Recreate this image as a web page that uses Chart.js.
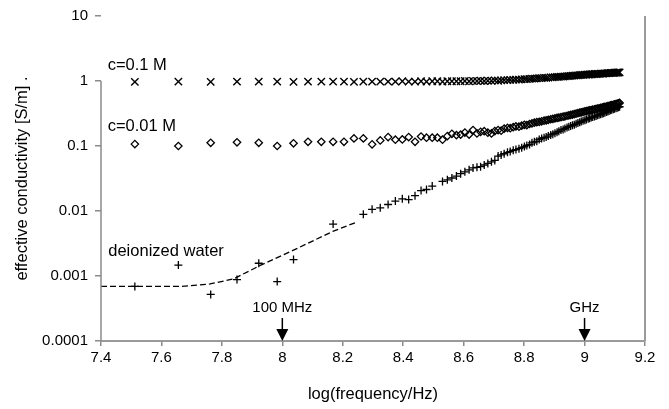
<!DOCTYPE html>
<html>
<head>
<meta charset="utf-8">
<script src="https://cdn.jsdelivr.net/npm/chart.js@4.4.0/dist/chart.umd.min.js"></script>
<style>
  html, body { margin: 0; padding: 0; background: #fff; }
  #wrap { width: 669px; height: 409px; position: relative; }
</style>
</head>
<body>
<div id="wrap"><canvas id="c" width="669" height="409"></canvas></div>
<script>
// log10(frequency / Hz) of every measurement point
const logFreq = [
  7.512, 7.656, 7.763, 7.850, 7.922, 7.983, 8.037, 8.085, 8.129, 8.168,
  8.204, 8.237, 8.268, 8.297, 8.324, 8.350, 8.374, 8.397, 8.418, 8.439,
  8.459, 8.477, 8.496, 8.513, 8.530, 8.546, 8.561, 8.576, 8.590, 8.604,
  8.618, 8.631, 8.644, 8.656, 8.668, 8.680, 8.692, 8.703, 8.714, 8.724,
  8.734, 8.745, 8.754, 8.764, 8.773, 8.783, 8.792, 8.801, 8.809, 8.818,
  8.826, 8.834, 8.842, 8.850, 8.858, 8.866, 8.873, 8.880, 8.888, 8.895,
  8.902, 8.909, 8.915, 8.922, 8.929, 8.935, 8.942, 8.948, 8.954, 8.960,
  8.966, 8.972, 8.978, 8.984, 8.989, 8.995, 9.001, 9.006, 9.012, 9.017,
  9.022, 9.027, 9.033, 9.038, 9.043, 9.048, 9.053, 9.058, 9.062, 9.067,
  9.072, 9.077, 9.081, 9.086, 9.090, 9.095, 9.099, 9.104, 9.108, 9.112,
  9.116
];

// c = 0.1 M  (x markers)
const cond01 = [
  0.97,0.98,0.97,0.98,0.98,0.98,0.97,0.98,0.98,0.98,
  0.98,0.97,0.98,0.98,0.98,0.98,0.98,0.99,0.98,0.98,
  0.99,0.98,0.99,0.99,0.98,0.99,0.99,0.99,0.99,1.00,
  0.99,1.00,1.00,1.01,1.00,1.01,1.01,1.02,1.01,1.02,
  1.03,1.03,1.04,1.04,1.05,1.05,1.06,1.07,1.07,1.08,
  1.09,1.09,1.10,1.11,1.11,1.12,1.12,1.13,1.14,1.14,
  1.15,1.16,1.16,1.17,1.17,1.18,1.19,1.19,1.20,1.21,
  1.21,1.22,1.22,1.23,1.24,1.24,1.25,1.25,1.26,1.26,
  1.27,1.27,1.28,1.28,1.29,1.29,1.30,1.30,1.30,1.31,
  1.31,1.32,1.32,1.33,1.33,1.33,1.34,1.34,1.35,1.35,
  1.36
];

// c = 0.01 M  (diamonds)
const cond001 = [
  0.107,0.100,0.112,0.114,0.112,0.100,0.110,0.116,0.116,0.116,
  0.116,0.131,0.131,0.106,0.122,0.137,0.125,0.126,0.137,0.116,
  0.140,0.134,0.134,0.134,0.125,0.142,0.154,0.147,0.150,0.161,
  0.150,0.176,0.156,0.165,0.169,0.160,0.156,0.170,0.176,0.172,
  0.185,0.190,0.188,0.195,0.200,0.198,0.205,0.212,0.210,0.218,
  0.222,0.228,0.232,0.236,0.240,0.245,0.248,0.253,0.258,0.262,
  0.266,0.270,0.274,0.278,0.282,0.286,0.292,0.296,0.300,0.305,
  0.310,0.315,0.320,0.325,0.330,0.335,0.340,0.344,0.349,0.353,
  0.358,0.362,0.367,0.372,0.376,0.380,0.385,0.390,0.395,0.400,
  0.405,0.410,0.415,0.420,0.425,0.430,0.436,0.442,0.448,0.454,
  0.460
];

// deionized water  (plus markers; null = no point shown)
const water = [
  0.00069,0.00147,0.00052,0.00088,0.00157,0.00082,0.00179,null,null,0.0063,
  null,null,0.0089,0.0106,0.0112,0.0126,0.0142,0.0154,0.0150,0.0172,
  0.0206,0.0214,0.0242,null,0.0285,0.0302,0.0322,0.0345,0.0375,0.0400,
  0.043,0.046,0.047,0.048,0.051,0.054,0.057,0.060,0.070,0.073,
  0.076,0.080,0.082,0.086,0.088,0.091,0.094,0.098,0.102,0.105,
  0.112,0.116,0.118,0.126,0.131,0.134,0.137,0.142,0.148,0.152,
  0.157,0.163,0.168,0.176,0.180,0.186,0.193,0.198,0.203,0.208,
  0.213,0.219,0.225,0.232,0.238,0.244,0.250,0.256,0.262,0.268,
  0.274,0.279,0.284,0.290,0.296,0.302,0.308,0.314,0.320,0.326,
  0.333,0.340,0.347,0.354,0.360,0.367,0.374,0.381,0.388,0.395,
  0.402
];

// dashed fit curve for deionized water
const fitX = [7.40, 7.662, 7.761, 7.838, 7.925, 8.037, 8.169, 8.241];
const fitY = [0.00069, 0.00069, 0.000755, 0.00090, 0.00144, 0.0025, 0.0049, 0.0066];

// axes
const xTickValues = [7.4, 7.6, 7.8, 8.0, 8.2, 8.4, 8.6, 8.8, 9.0, 9.2];
const xTickLabels = ["7.4", "7.6", "7.8", "8", "8.2", "8.4", "8.6", "8.8", "9", "9.2"];
const yTickValues = [0.0001, 0.001, 0.01, 0.1, 1, 10];
const yTickLabels = ["0.0001", "0.001", "0.01", "0.1", "1", "10"];

// text labels in the plot (anchored in data coordinates)
const labelTexts = ["c=0.1 M", "c=0.01 M", "deionized water"];
const labelX = [7.422, 7.422, 7.424];
const labelY = [1.71, 0.203, 0.00235];

// arrows at the bottom
const arrowX = [8, 9];
const arrowLabels = ["100 MHz", "GHz"];

const FONT = "'Liberation Sans', Arial, Helvetica, sans-serif";

function pts(ys) {
  const out = [];
  for (let i = 0; i < logFreq.length; i++) {
    if (ys[i] !== null && ys[i] !== undefined) out.push({ x: logFreq[i], y: ys[i] });
  }
  return out;
}

const overlay = {
  id: 'overlay',
  afterDraw(chart) {
    const ctx = chart.ctx;
    const xs = chart.scales.x, ys = chart.scales.y;
    const ca = chart.chartArea;
    ctx.save();
    // left axis line (only from 1 downwards, as in the reference)
    ctx.strokeStyle = '#8a8a8a';
    ctx.lineWidth = 1.5;
    ctx.beginPath();
    ctx.moveTo(ca.left, ys.getPixelForValue(1));
    ctx.lineTo(ca.left, ca.bottom);
    ctx.stroke();
    // right frame line
    ctx.strokeStyle = '#9a9a9a';
    ctx.lineWidth = 2;
    ctx.beginPath();
    ctx.moveTo(ca.right, ca.top);
    ctx.lineTo(ca.right, ca.bottom);
    ctx.stroke();

    // labels
    ctx.fillStyle = '#000';
    ctx.font = '16.5px ' + FONT;
    ctx.textAlign = 'left';
    ctx.textBaseline = 'middle';
    for (let i = 0; i < labelTexts.length; i++) {
      ctx.fillText(labelTexts[i], xs.getPixelForValue(labelX[i]), ys.getPixelForValue(labelY[i]));
    }

    // arrows
    for (let i = 0; i < arrowX.length; i++) {
      const px = xs.getPixelForValue(arrowX[i]);
      const b = ca.bottom;
      ctx.strokeStyle = '#000';
      ctx.lineWidth = 1.5;
      ctx.beginPath();
      ctx.moveTo(px, b - 23);
      ctx.lineTo(px, b - 10);
      ctx.stroke();
      ctx.fillStyle = '#000';
      ctx.beginPath();
      ctx.moveTo(px - 6, b - 12);
      ctx.lineTo(px + 6, b - 12);
      ctx.lineTo(px, b);
      ctx.closePath();
      ctx.fill();
      ctx.font = '15px ' + FONT;
      ctx.textAlign = 'center';
      ctx.textBaseline = 'middle';
      ctx.fillText(arrowLabels[i], px, b - 33);
    }
    ctx.restore();
  }
};

new Chart(document.getElementById('c'), {
  type: 'scatter',
  data: {
    datasets: [
      {
        label: 'c=0.1 M',
        data: pts(cond01),
        pointStyle: 'crossRot',
        pointRadius: 5.2,
        borderColor: '#000',
        backgroundColor: '#000',
        pointBorderWidth: 1.4,
        showLine: false
      },
      {
        label: 'c=0.01 M',
        data: pts(cond001),
        pointStyle: 'rectRot',
        pointRadius: 3.7,
        borderColor: '#000',
        backgroundColor: 'rgba(0,0,0,0)',
        pointBorderWidth: 1.3,
        showLine: false
      },
      {
        label: 'deionized water',
        data: pts(water),
        pointStyle: 'cross',
        pointRadius: 4,
        borderColor: '#000',
        backgroundColor: '#000',
        pointBorderWidth: 1.3,
        showLine: false
      },
      {
        label: 'fit',
        data: fitX.map((x, i) => ({ x: x, y: fitY[i] })),
        showLine: true,
        pointRadius: 0,
        borderColor: '#000',
        borderWidth: 1.3,
        borderDash: [6, 3],
        tension: 0,
        fill: false
      }
    ]
  },
  options: {
    responsive: false,
    devicePixelRatio: 1,
    animation: false,
    events: [],
    layout: { padding: { top: 13, right: 24, left: 0, bottom: 0 } },
    plugins: { legend: { display: false }, tooltip: { enabled: false } },
    scales: {
      x: {
        type: 'linear',
        min: 7.4,
        max: 9.2,
        afterBuildTicks: (s) => { s.ticks = xTickValues.map(v => ({ value: v })); },
        afterFit: (s) => { s.height = 68; },
        ticks: {
          autoSkip: false,
          maxRotation: 0,
          padding: 3,
          color: '#000',
          font: { family: FONT, size: 15 },
          callback: (v, i) => xTickLabels[i]
        },
        grid: { drawOnChartArea: false, drawTicks: true, tickLength: 5, color: '#8a8a8a', lineWidth: 1.5 },
        border: { display: true, color: '#9a9a9a', width: 2 },
        title: {
          display: true,
          text: 'log(frequency/Hz)',
          color: '#000',
          font: { family: FONT, size: 16.5 },
          padding: { top: 0, bottom: 5 }
        }
      },
      y: {
        type: 'logarithmic',
        min: 0.0001,
        max: 10,
        afterBuildTicks: (s) => { s.ticks = yTickValues.map(v => ({ value: v })); },
        afterFit: (s) => { s.width = 101; },
        ticks: {
          autoSkip: false,
          padding: 7,
          color: '#000',
          font: { family: FONT, size: 15 },
          callback: (v, i) => yTickLabels[i]
        },
        grid: { drawOnChartArea: false, drawTicks: true, tickLength: 6, color: '#8a8a8a', lineWidth: 1.5 },
        border: { display: false },
        title: {
          display: true,
          text: 'effective conductivity [S/m] .',
          color: '#000',
          font: { family: FONT, size: 16.5 },
          padding: { top: 13, bottom: 0 }
        }
      }
    }
  },
  plugins: [overlay]
});
</script>
</body>
</html>
